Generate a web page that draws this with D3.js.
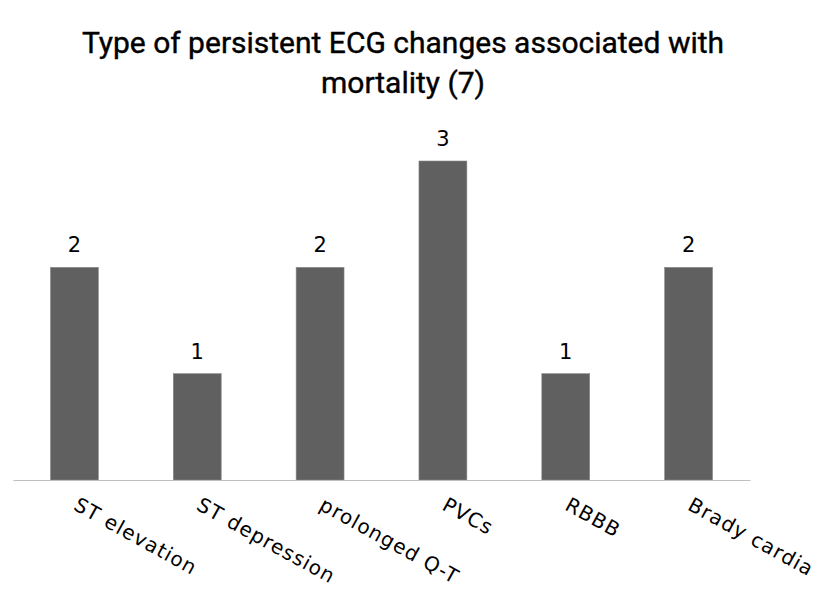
<!DOCTYPE html>
<html><head><meta charset="utf-8">
<script src="https://cdn.jsdelivr.net/npm/d3@7"></script>
<style>body{margin:0;background:#fff}</style>
</head><body>
<svg id="c" width="827" height="605"></svg>
<script>
const categories = ["ST elevation","ST depression","prolonged Q-T","PVCs","RBBB","Brady cardia"];
const values = [2,1,2,3,1,2];
const titleLines = ["Type of persistent ECG changes associated with","mortality (7)"];

const svg = d3.select("#c");
const W = 827, H = 605;
svg.append("rect").attr("width",W).attr("height",H).attr("fill","#fff");

const x = d3.scaleBand().domain(categories).range([13,750]).paddingInner(0.61).paddingOuter(0.305);
const y = d3.scaleLinear().domain([0,3]).range([480,161]);

const g = svg.append("g");
g.selectAll("rect.bar").data(values).join("rect")
  .attr("class","bar")
  .attr("x",(d,i)=>x(categories[i]))
  .attr("y",d=>y(d))
  .attr("width",x.bandwidth())
  .attr("height",d=>y(0)-y(d))
  .attr("fill","#606060")
  .attr("stroke","#8a8a8a").attr("stroke-width",0.6);

const axis = d3.axisBottom(x).tickSize(0).tickFormat("");
const ax = svg.append("g").attr("transform","translate(0,480)").call(axis);
ax.select(".domain").attr("stroke","#bfbfbf").attr("stroke-width",1.2);

g.selectAll("text.val").data(values).join("text")
  .attr("class","val")
  .attr("x",(d,i)=>x(categories[i])+x.bandwidth()/2)
  .attr("y",d=>y(d)-15)
  .attr("text-anchor","middle")
  .attr("font-family","DejaVu Sans, sans-serif")
  .attr("font-size",21)
  .attr("fill","#000")
  .text(d=>d);

g.selectAll("text.cat").data(categories).join("text")
  .attr("class","cat")
  .attr("transform",(d)=>`translate(${x(d)+x.bandwidth()/2-2},${509}) rotate(29)`)
  .attr("text-anchor","start")
  .attr("font-family","DejaVu Sans, sans-serif")
  .attr("font-size",20)
  .attr("letter-spacing",1.1)
  .attr("fill","#000")
  .text(d=>d);

svg.selectAll("text.title").data(titleLines).join("text")
  .attr("class","title")
  .attr("x",403)
  .attr("y",(d,i)=>53+i*40)
  .attr("text-anchor","middle")
  .attr("font-family","Roboto, sans-serif")
  .attr("font-weight",400)
  .attr("font-size",30)
  .attr("stroke","#000").attr("stroke-width",0.4)
  .attr("fill","#000")
  .text(d=>d);
</script>
</body></html>
